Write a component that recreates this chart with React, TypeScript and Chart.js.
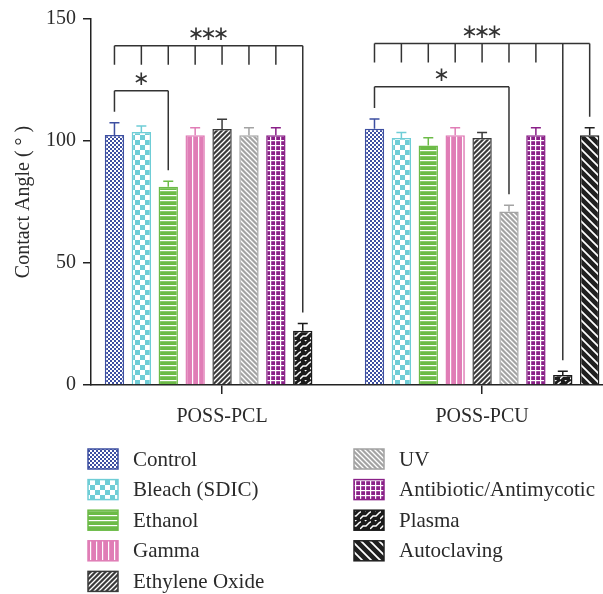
import { useEffect, useRef } from 'react';
import { Chart, registerables } from 'chart.js';

Chart.register(...registerables);

// ---------- data ----------
const categories = ['POSS-PCL', 'POSS-PCU'];
const seriesNames = [
  'Control',
  'Bleach (SDIC)',
  'Ethanol',
  'Gamma',
  'Ethylene Oxide',
  'UV',
  'Antibiotic/Antimycotic',
  'Plasma',
  'Autoclaving',
];
const controlValues = [102.5, 105.0];
const bleachValues = [103.7, 101.2];
const ethanolValues = [81.3, 98.2];
const gammaValues = [102.4, 102.4];
const ethyleneOxideValues = [104.9, 101.2];
const uvValues = [102.4, 71.1];
const antibioticValues = [102.4, 102.4];
const plasmaValues = [22.2, 4.1];
const autoclavingValues = [null, 102.4];

const controlErrors = [5.0, 4.0];
const bleachErrors = [2.4, 2.3];
const ethanolErrors = [2.2, 3.1];
const gammaErrors = [3.0, 3.0];
const ethyleneOxideErrors = [4.0, 2.3];
const uvErrors = [3.0, 2.6];
const antibioticErrors = [3.0, 3.0];
const plasmaErrors = [3.0, 1.5];
const autoclavingErrors = [null, 3.0];

const yTicks = [0, 50, 100, 150];
const yTitle = 'Contact Angle ( ° )';

// significance brackets: category index, label, bracket level (data units), series members, members with long drops
const brackets = [
  { category: 0, label: '∗∗∗', level: 139, members: [0, 1, 2, 3, 4, 5, 6, 7], long: [7] },
  { category: 0, label: '∗', level: 120.6, members: [0, 2], long: [0, 2] },
  { category: 1, label: '∗∗∗', level: 140, members: [0, 1, 2, 3, 4, 5, 6, 7, 8], long: [7, 8] },
  { category: 1, label: '∗', level: 122.2, members: [0, 5], long: [0, 5] },
];

const allValues = [
  controlValues, bleachValues, ethanolValues, gammaValues, ethyleneOxideValues,
  uvValues, antibioticValues, plasmaValues, autoclavingValues,
];
const allErrors = [
  controlErrors, bleachErrors, ethanolErrors, gammaErrors, ethyleneOxideErrors,
  uvErrors, antibioticErrors, plasmaErrors, autoclavingErrors,
];

// ---------- styles ----------
const colors = ['#3d4fa1', '#6fcdd6', '#6cbb47', '#e07db6', '#3b3b3b', '#a3a3a3', '#8a2088', '#1b1b1b', '#202020'];
const FONT = "'Liberation Serif', 'Times New Roman', serif";
const TEXT = '#2a2a2a';

function tile(w: number, h: number, draw: (c: CanvasRenderingContext2D) => void): CanvasPattern {
  const cv = document.createElement('canvas');
  cv.width = w;
  cv.height = h;
  const c = cv.getContext('2d')!;
  draw(c);
  const ctx = document.createElement('canvas').getContext('2d')!;
  return ctx.createPattern(cv, 'repeat')!;
}

function diag(c: CanvasRenderingContext2D, s: number, dir: 1 | -1, lw: number) {
  c.strokeStyle = '#ffffff';
  c.lineWidth = lw;
  c.beginPath();
  for (let k = -1; k <= 1; k++) {
    if (dir === 1) {
      c.moveTo(k * s - 1, s + 1);
      c.lineTo(k * s + s + 1, -1);
    } else {
      c.moveTo(k * s - 1, -1);
      c.lineTo(k * s + s + 1, s + 1);
    }
  }
  c.stroke();
}

function makePatterns(): CanvasPattern[] {
  return [
    tile(4, 4, (c) => {
      c.fillStyle = colors[0];
      c.fillRect(0, 0, 4, 4);
      c.fillStyle = '#ffffff';
      c.fillRect(0, 0, 2, 2);
      c.fillRect(2, 2, 2, 2);
    }),
    tile(10, 10, (c) => {
      c.fillStyle = colors[1];
      c.fillRect(0, 0, 10, 10);
      c.fillStyle = '#ffffff';
      c.fillRect(0, 0, 5, 5);
      c.fillRect(5, 5, 5, 5);
    }),
    tile(5, 5, (c) => {
      c.fillStyle = colors[2];
      c.fillRect(0, 0, 5, 5);
      c.fillStyle = '#ffffff';
      c.fillRect(0, 0, 5, 1.2);
    }),
    tile(6, 6, (c) => {
      c.fillStyle = colors[3];
      c.fillRect(0, 0, 6, 6);
      c.fillStyle = '#ffffff';
      c.fillRect(0, 0, 1.2, 6);
    }),
    tile(5, 5, (c) => {
      c.fillStyle = colors[4];
      c.fillRect(0, 0, 5, 5);
      diag(c, 5, 1, 1.3);
    }),
    tile(5, 5, (c) => {
      c.fillStyle = colors[5];
      c.fillRect(0, 0, 5, 5);
      diag(c, 5, -1, 1.3);
    }),
    tile(5, 5, (c) => {
      c.fillStyle = colors[6];
      c.fillRect(0, 0, 5, 5);
      c.fillStyle = '#ffffff';
      c.fillRect(0, 0, 5, 1.2);
      c.fillRect(0, 0, 1.2, 5);
    }),
    tile(10, 10, (c) => {
      c.fillStyle = colors[7];
      c.fillRect(0, 0, 10, 10);
      c.strokeStyle = '#ffffff';
      c.lineWidth = 1.5;
      c.beginPath();
      c.moveTo(0, 9);
      c.lineTo(3, 6);
      c.lineTo(6, 6);
      c.lineTo(10, 2);
      c.moveTo(5, 1);
      c.lineTo(7, -1);
      c.moveTo(-1, 2);
      c.lineTo(1, 2);
      c.stroke();
    }),
    tile(9, 9, (c) => {
      c.fillStyle = colors[8];
      c.fillRect(0, 0, 9, 9);
      diag(c, 9, -1, 1.8);
    }),
  ];
}

const errorBarPlugin = {
  id: 'errorBars',
  afterDatasetsDraw(chart: any) {
    const ctx = chart.ctx;
    const yScale = chart.scales.y;
    ctx.save();
    allValues.forEach((vals, si) => {
      const meta = chart.getDatasetMeta(si);
      vals.forEach((v, ci) => {
        const e = allErrors[si][ci];
        if (v == null || e == null) return;
        const el = meta.data[ci];
        if (!el) return;
        const x = el.x;
        const yTop = yScale.getPixelForValue(v + e);
        ctx.strokeStyle = colors[si];
        ctx.lineWidth = 1.5;
        ctx.beginPath();
        ctx.moveTo(x, el.y);
        ctx.lineTo(x, yTop);
        ctx.moveTo(x - 5, yTop);
        ctx.lineTo(x + 5, yTop);
        ctx.stroke();
      });
    });
    ctx.restore();
  },
};

const annotationPlugin = {
  id: 'annotations',
  afterDraw(chart: any, _args: any, opts: any) {
    const ctx = chart.ctx;
    const yScale = chart.scales.y;
    const patterns: CanvasPattern[] = opts.patterns;
    ctx.save();
    // brackets
    brackets.forEach((b) => {
      const xs = b.members.map((s) => chart.getDatasetMeta(s).data[b.category].x);
      const yl = yScale.getPixelForValue(b.level);
      ctx.strokeStyle = '#333333';
      ctx.lineWidth = 1.5;
      ctx.beginPath();
      ctx.moveTo(Math.min(...xs), yl);
      ctx.lineTo(Math.max(...xs), yl);
      b.members.forEach((s, k) => {
        let yEnd = yl + 19;
        if (b.long.includes(s)) {
          const v = allValues[s][b.category] as number;
          const e = allErrors[s][b.category] as number;
          yEnd = yScale.getPixelForValue(v + e + 4.5);
        }
        ctx.moveTo(xs[k], yl);
        ctx.lineTo(xs[k], yEnd);
      });
      ctx.stroke();
      ctx.fillStyle = '#333333';
      ctx.font = `20px 'DejaVu Sans', sans-serif`;
      ctx.textAlign = 'center';
      ctx.textBaseline = 'middle';
      const mid = (Math.min(...xs) + Math.max(...xs)) / 2;
      const stars = b.label.split('');
      stars.forEach((s, k) => {
        const dx = (k - (stars.length - 1) / 2) * 12.5;
        ctx.fillText(s, mid + dx, yl - 11);
      });
    });
    // legend
    seriesNames.forEach((name, i) => {
      const col = i < 5 ? 0 : 1;
      const row = i < 5 ? i : i - 5;
      const bx = col === 0 ? 88 : 354;
      const cy = 459 + row * 30.6;
      ctx.fillStyle = patterns[i];
      ctx.fillRect(bx, cy - 10, 30, 20);
      ctx.strokeStyle = colors[i];
      ctx.lineWidth = 1.5;
      ctx.strokeRect(bx, cy - 10, 30, 20);
      ctx.fillStyle = TEXT;
      ctx.font = `21px ${FONT}`;
      ctx.textAlign = 'left';
      ctx.textBaseline = 'middle';
      ctx.fillText(name, bx + 45, cy + 1);
    });
    ctx.restore();
  },
};

export default function App() {
  const ref = useRef<HTMLCanvasElement>(null);
  useEffect(() => {
    document.body.style.margin = '0';
    const patterns = makePatterns();
    const datasets = seriesNames.map((name, i) => ({
      label: name,
      data: allValues[i].map((v, ci) => ({ x: ci, y: v })),
      backgroundColor: patterns[i],
      borderColor: colors[i],
      borderWidth: 1.5,
      categoryPercentage: 0.931,
      barPercentage: 0.72,
    }));
    const chart = new Chart(ref.current!, {
      type: 'bar',
      data: { datasets: datasets as any },
      plugins: [errorBarPlugin, annotationPlugin],
      options: {
        animation: false,
        responsive: true,
        maintainAspectRatio: false,
        layout: { padding: { top: 16, left: 0, right: 0, bottom: 0 } },
        plugins: {
          legend: { display: false },
          tooltip: { enabled: false },
          annotations: { patterns },
        } as any,
        scales: {
          x: {
            type: 'linear',
            min: -0.504,
            max: 1.465,
            offset: false,
            afterBuildTicks: (scale: any) => {
              scale.ticks = categories.map((_, i) => ({ value: i }));
            },
            afterFit: (scale: any) => {
              scale.height = 209;
            },
            ticks: {
              callback: (v: any) => categories[v as number] ?? '',
              font: { family: FONT, size: 20 },
              color: TEXT,
              padding: 11,
              maxRotation: 0,
              autoSkip: false,
            },
            grid: { display: true, drawOnChartArea: false, drawTicks: true, tickLength: 9, color: '#222', lineWidth: 1.5, offset: false },
            border: { display: true, color: '#222', width: 1.5 },
          },
          y: {
            min: 0,
            max: 150,
            afterBuildTicks: (scale: any) => {
              scale.ticks = yTicks.map((v) => ({ value: v }));
            },
            afterFit: (scale: any) => {
              scale.width = 91;
            },
            ticks: {
              font: { family: FONT, size: 20 },
              color: TEXT,
              padding: 7,
            },
            title: {
              display: true,
              text: yTitle,
              font: { family: FONT, size: 20 },
              color: TEXT,
              padding: { top: 12, bottom: 0 },
            },
            grid: { display: true, drawOnChartArea: false, drawTicks: true, tickLength: 8, color: '#222', lineWidth: 1.5 },
            border: { display: true, color: '#222', width: 1.5 },
          },
        },
      } as any,
    });
    return () => chart.destroy();
  }, []);
  return (
    <div style={{ width: 603, height: 594, position: 'relative' }}>
      <canvas ref={ref} />
    </div>
  );
}
